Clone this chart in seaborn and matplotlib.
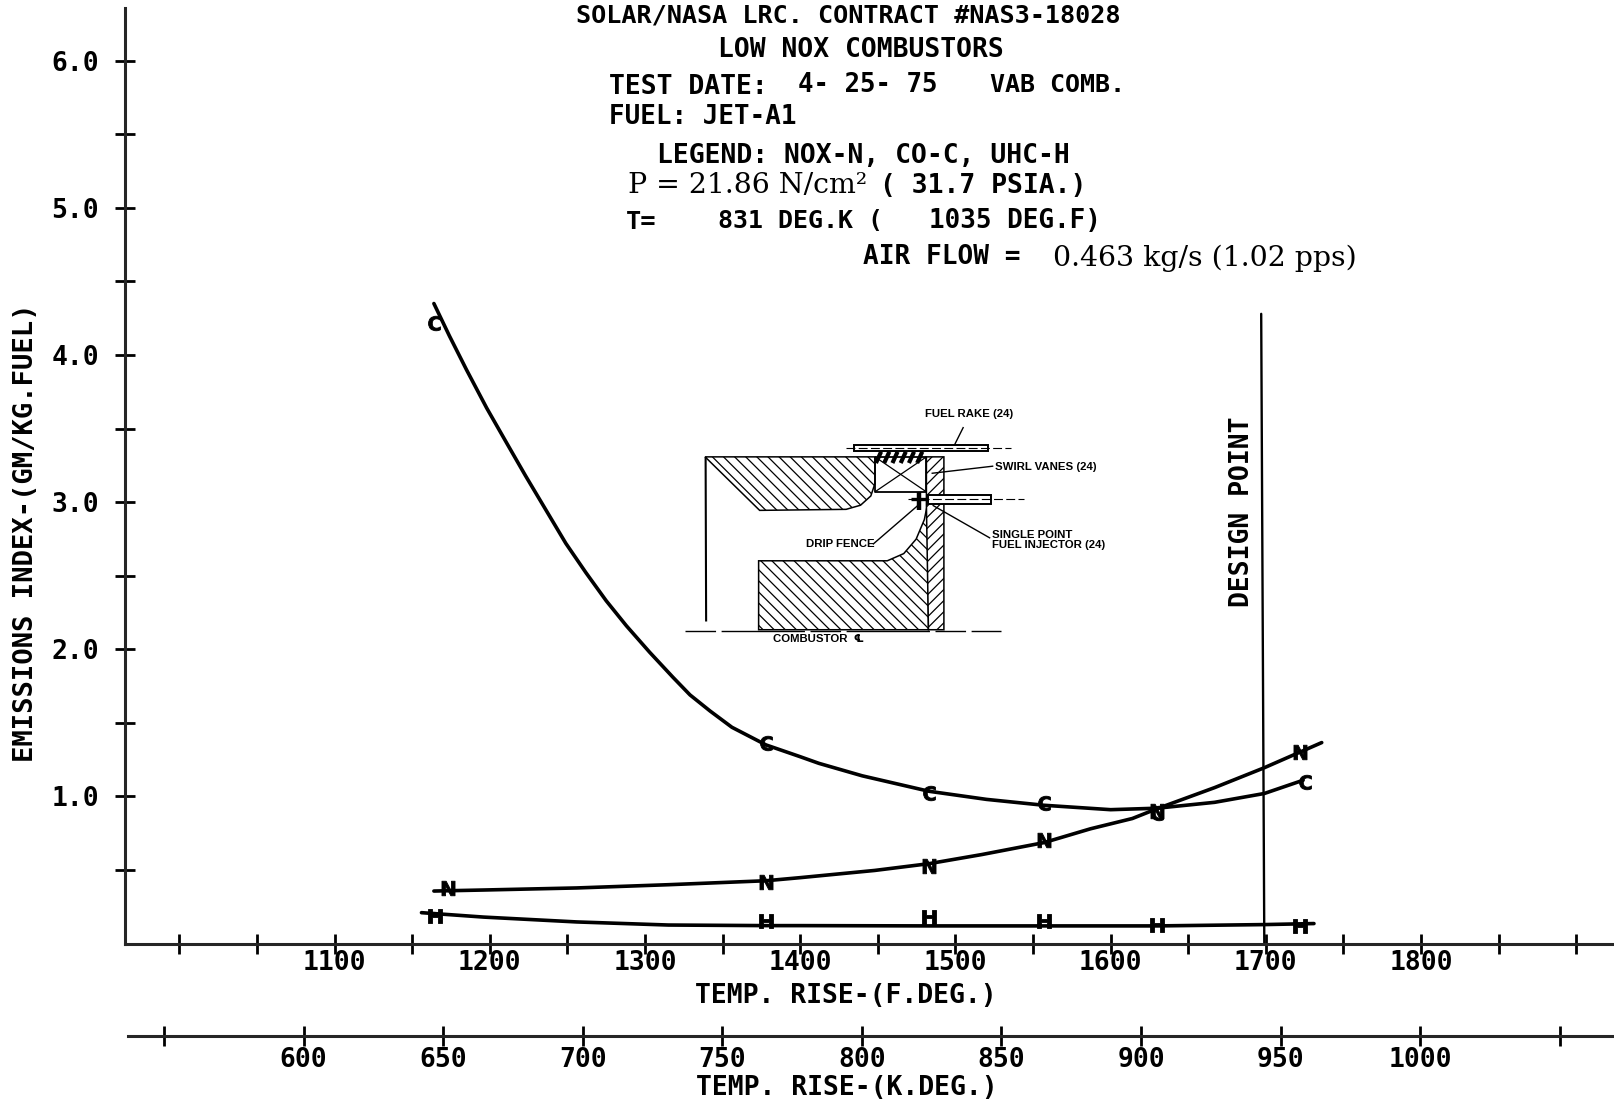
import numpy as np
import pandas as pd
import matplotlib
matplotlib.use("Agg")
import matplotlib.pyplot as plt
from matplotlib.patches import Polygon, Rectangle
import seaborn as sns

# ---------- data ----------
co_temp = [1164, 1174, 1185, 1198, 1211, 1223, 1236, 1249, 1262, 1275, 1288, 1303, 1318, 1329, 1342, 1356, 1378, 1400, 1412, 1440, 1483, 1520, 1557, 1600, 1630, 1667, 1699, 1724]
co_ei = [4.35, 4.13, 3.90, 3.64, 3.40, 3.18, 2.95, 2.72, 2.52, 2.33, 2.16, 1.98, 1.81, 1.69, 1.58, 1.47, 1.35, 1.27, 1.225, 1.14, 1.035, 0.98, 0.94, 0.91, 0.92, 0.96, 1.02, 1.11]
nox_temp = [1164, 1196, 1256, 1315, 1378, 1400, 1448, 1483, 1517, 1557, 1587, 1614, 1630, 1667, 1699, 1736]
nox_ei = [0.357, 0.364, 0.378, 0.40, 0.427, 0.448, 0.497, 0.543, 0.605, 0.686, 0.78, 0.85, 0.917, 1.06, 1.195, 1.366]
uhc_temp = [1156, 1196, 1256, 1315, 1378, 1400, 1485, 1557, 1630, 1699, 1731]
uhc_ei = [0.21, 0.18, 0.147, 0.126, 0.122, 0.122, 0.12, 0.12, 0.12, 0.129, 0.136]

co_pt_temp = [1164, 1378, 1483, 1557, 1630, 1725]
co_pt_ei = [4.22, 1.36, 1.02, 0.955, 0.89, 1.10]
nox_pt_temp = [1173, 1378, 1483, 1557, 1630, 1722]
nox_pt_ei = [0.38, 0.42, 0.525, 0.706, 0.90, 1.30]
uhc_pt_temp = [1165, 1378, 1483, 1557, 1630, 1722]
uhc_pt_ei = [0.19, 0.154, 0.183, 0.156, 0.129, 0.122]

design_temp = [1697, 1699]
design_ei = [4.28, 0.0]

f_ticks = [1000, 1050, 1100, 1150, 1200, 1250, 1300, 1350, 1400, 1450, 1500, 1550, 1600, 1650, 1700, 1750, 1800, 1850, 1900]
f_labels = ["", "", "1100", "", "1200", "", "1300", "", "1400", "", "1500", "", "1600", "", "1700", "", "1800", "", ""]
k_ticks = [550, 600, 650, 700, 750, 800, 850, 900, 950, 1000, 1050]
k_labels = ["", "600", "650", "700", "750", "800", "850", "900", "950", "1000", ""]
y_ticks = [0.5, 1.0, 1.5, 2.0, 2.5, 3.0, 3.5, 4.0, 4.5, 5.0, 5.5, 6.0]
y_labels = ["", "1.0", "", "2.0", "", "3.0", "", "4.0", "", "5.0", "", "6.0"]

# ---------- style ----------
sns.set_theme(style="ticks")
MONO = "DejaVu Sans Mono"
SERIF = "DejaVu Serif"
SANS = "Liberation Sans"
plt.rcParams.update({"font.family": [MONO, "DejaVu Sans"], "font.weight": "bold",
                     "axes.labelweight": "bold",
                     "hatch.linewidth": 0.9, "axes.linewidth": 2.2,
                     "text.color": "black", "axes.labelcolor": "black",
                     "xtick.color": "black", "ytick.color": "black"})

W, H = 1568.0, 1070.0
fig = plt.figure(figsize=(16.14, 11.01), dpi=100, facecolor="white")


def frame(l, t, r, b):
    return [l / W, 1 - b / H, (r - l) / W, (b - t) / H]


# ---------- main axes ----------
ax = fig.add_axes(frame(121, 8, 1568, 917))
ax.set_xlim(964.7, 1924.3)
ax.set_ylim(0, 6.357)

for xs, ys in [(co_temp, co_ei), (nox_temp, nox_ei), (uhc_temp, uhc_ei)]:
    sns.lineplot(x=xs, y=ys, ax=ax, color="black", linewidth=2.6, sort=False, estimator=None)
sns.lineplot(x=design_temp, y=design_ei, ax=ax, color="black", linewidth=1.7, sort=False, estimator=None)

for xs, ys, m in [(co_pt_temp, co_pt_ei, r"$\mathrm{C}$"),
                  (nox_pt_temp, nox_pt_ei, r"$\mathrm{N}$"),
                  (uhc_pt_temp, uhc_pt_ei, r"$\mathrm{H}$")]:
    sns.scatterplot(x=xs, y=ys, ax=ax, marker=m, s=110, color="black", linewidth=0.6, edgecolor="black", zorder=5)

sns.despine(ax=ax)
ax.set_xticks(f_ticks, f_labels, fontsize=19)
ax.set_yticks(y_ticks, y_labels, fontsize=19)
ax.tick_params(axis="x", direction="inout", length=15, width=2.0, pad=-3)
ax.tick_params(axis="y", direction="inout", length=15, width=2.0, pad=11)

# ---------- overlay in picture coordinates ----------
ov = fig.add_axes([0, 0, 1, 1], facecolor="none")
ov.set_xlim(0, W)
ov.set_ylim(H, 0)
ov.axis("off")

ax.set_xlabel("TEMP. RISE-(F.DEG.)", fontsize=19, va="center")
ax.xaxis.set_label_coords(822, 968, transform=ov.transData)
ax.set_ylabel("EMISSIONS INDEX-(GM/KG.FUEL)", fontsize=19.6, va="center")
ax.yaxis.set_label_coords(25, 518, transform=ov.transData)

# ---------- kelvin axis ----------
ax2 = fig.add_axes(frame(124, 1006, 1568, 1007), facecolor="none")
ax2.set_xlim(537, 1069.4)
ax2.set_yticks([])
sns.despine(ax=ax2, left=True)
ax2.set_xticks(k_ticks, k_labels, fontsize=19)
ax2.tick_params(axis="x", direction="inout", length=15, width=2.0, pad=0)
ax2.set_xlabel("TEMP. RISE-(K.DEG.)", fontsize=19, va="center")
ax2.xaxis.set_label_coords(823, 1057, transform=ov.transData)


def mono(x, y, s, size=18.5, **kw):
    ov.text(x, y, s, fontsize=size, family=[MONO, "DejaVu Sans"], fontweight="bold", va="center", ha=kw.pop("ha", "left"), **kw)


def serif(x, y, s, size=20):
    ov.text(x, y, s, fontsize=size, family=SERIF, fontweight="normal", va="center", ha="left")


def small(x, y, s, size=8.2):
    ov.text(x, y, s, fontsize=size, family=[SANS, "DejaVu Sans"], fontweight="bold", va="center", ha="left")


mono(560, 15, "SOLAR/NASA LRC. CONTRACT #NAS3-18028", 18.1)
mono(698, 49, "LOW NOX COMBUSTORS", 19)
mono(592, 85, "TEST DATE:", 19)
mono(775, 83, "4- 25- 75", 18.5)
mono(962, 83, "VAB COMB.", 18)
mono(592, 114, "FUEL: JET-A1", 18.6)
mono(638, 152, "LEGEND: NOX-N, CO-C, UHC-H", 19)
serif(610, 180, "P = 21.86 N/cm²", 20.4)
mono(855, 181, "( 31.7 PSIA.)", 19)
mono(608, 216, "T=", 18.3)
mono(698, 215, "831 DEG.K (", 18)
mono(903, 215, "1035 DEG.F)", 18.7)
mono(838, 250, "AIR FLOW =", 18.8)
serif(1023, 251, "0.463 kg/s (1.02 pps)", 20.4)
ov.text(1207, 497, "DESIGN POINT", fontsize=19, family=[MONO, "DejaVu Sans"], fontweight="bold",
        rotation=90, va="center", ha="center")

# ---------- combustor sketch ----------
lw = 1.3
def line(xs, ys, w=lw, **kw):
    ov.plot(xs, ys, color="black", linewidth=w, solid_capstyle="butt", **kw)


ov.add_patch(Polygon([(685, 444), (850, 444), (850, 470), (846, 482), (836, 491), (822, 495), (738, 496)],
                     closed=True, facecolor="white", edgecolor="black", hatch="\\\\\\", lw=1.1))
ov.add_patch(Polygon([(737, 545), (862, 545), (878, 538), (890, 524), (898, 505), (901, 490), (902, 612), (737, 612)],
                     closed=True, facecolor="white", edgecolor="black", hatch="\\\\\\", lw=1.1))
ov.add_patch(Polygon([(900, 444), (917, 444), (917, 612), (902, 612), (900, 490)],
                     closed=True, facecolor="white", edgecolor="black", hatch="///", lw=1.1))
line([685.5, 686], [444, 604], 1.5)
line([850, 900, 900, 850, 850], [444, 444, 478, 478, 444])
line([850, 900], [444, 478], 0.9)
line([850, 900], [478, 444], 0.9)
# rake, injector and swirl vanes
ov.add_patch(Rectangle((830, 432), 130, 6, facecolor="white", edgecolor="black", lw=1.4))
line([822, 982], [435, 435], 0.8, ls=(0, (8, 3)))
for vx in [851, 859, 867, 875, 883, 891]:
    line([vx, vx + 5], [450, 439], 3.0)
ov.add_patch(Rectangle((902, 481), 61, 9, facecolor="white", edgecolor="black", lw=1.4))
line([882, 995], [485, 485], 0.8, ls=(0, (8, 3)))
line([893, 893], [478, 496], 3.2)
line([885, 902], [485, 485], 2.4)
line([665, 972], [613, 613], 1.0, ls=(0, (22, 4, 60, 4)))
# leaders
line([927, 936], [433, 415], 1.0)
line([905, 965], [460, 453], 1.0)
line([906, 962], [491, 523], 1.0)
line([848, 892], [529, 491], 1.0)
small(899, 402, "FUEL RAKE (24)")
small(967, 454, "SWIRL VANES (24)")
small(964, 520, "SINGLE POINT")
small(964, 530, "FUEL INJECTOR (24)")
small(783, 529, "DRIP FENCE")
small(751, 621, "COMBUSTOR  ℄")

fig.savefig("out.png", dpi=100, facecolor="white")
